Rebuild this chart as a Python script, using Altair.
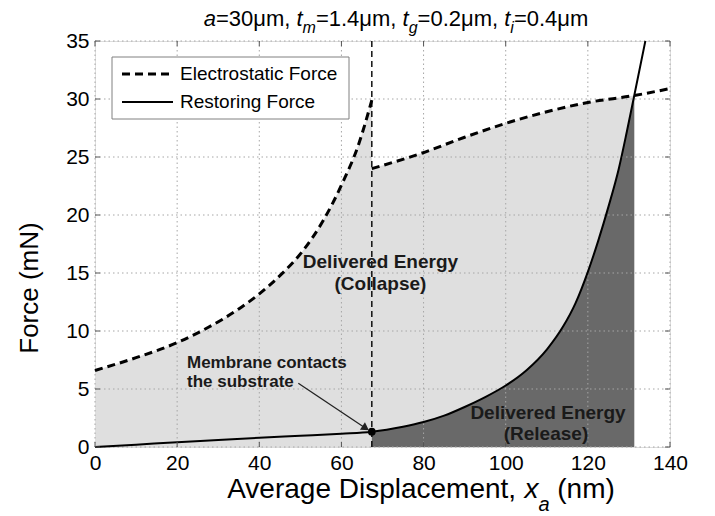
import altair as alt
import pandas as pd

# ---------------- data ----------------
elec_x_pre = [0, 10, 20, 27.5, 35, 40, 44.5, 50.8, 55.7, 60.3, 64, 67.4]
elec_y_pre = [6.6, 7.7, 9.0, 10.3, 11.9, 13.2, 14.6, 17.0, 19.6, 22.8, 25.9, 29.9]
elec_x_post = [67.4, 79.3, 90, 100, 110, 120, 131.3, 140]
elec_y_post = [24.0, 25.3, 26.7, 27.9, 28.9, 29.7, 30.3, 30.9]

rest_x = [0, 10, 20, 30, 40, 50, 60, 67.4, 75, 80, 85, 90, 95, 100, 105, 110,
          114, 117, 120, 122.5, 125, 127.5, 129.5, 131.3, 134.0]
rest_y = [0, 0.2, 0.42, 0.6, 0.8, 0.97, 1.15, 1.32, 1.75, 2.15, 2.7, 3.45, 4.3,
          5.3, 6.6, 8.4, 10.4, 12.4, 15.1, 17.75, 20.7, 23.95, 27.2, 30.3, 35]

contact_x = [67.4]
contact_y = [1.32]
cross_x = 131.3

x_ticks = [0, 20, 40, 60, 80, 100, 120, 140]
y_ticks = [0, 5, 10, 15, 20, 25, 30, 35]

series_names = ["Electrostatic Force", "Restoring Force"]

ann_text = ["Delivered Energy", "(Collapse)", "Delivered Energy", "(Release)"]
ann_x = [69.5, 69.5, 110.3, 109.8]
ann_y = [15.95, 14.05, 2.95, 1.1]

memb_text = ["Membrane contacts", "the substrate"]
memb_x = [22.4, 22.4]
memb_y = [7.25, 5.6]

arrow_x = [49.5, 65.9]
arrow_y = [5.5, 1.62]

# ---------------- layout ----------------
W, H = 575, 406
LEFT, TOP = 95, 41
FONT = "Liberation Sans"
LIGHT = "#dfdfdf"
DARK = "#696969"
GRID = "#a6a6a6"

xs = alt.Scale(domain=[0, 140], nice=False, zero=False)
ys = alt.Scale(domain=[0, 35], nice=False, zero=False)

elec_rows = []
for x, y in zip(elec_x_pre, elec_y_pre):
    elec_rows.append({"x": x, "y": y, "seg": 1, "series": series_names[0]})
for x, y in zip(elec_x_post, elec_y_post):
    elec_rows.append({"x": x, "y": y, "seg": 2, "series": series_names[0]})
elec_df = pd.DataFrame(elec_rows)
light_df = elec_df[elec_df["x"] <= cross_x]

rest_df = pd.DataFrame({"x": rest_x, "y": rest_y, "series": series_names[1]})
dark_df = rest_df[(rest_df["x"] >= contact_x[0]) & (rest_df["x"] <= cross_x)]

axis_common = dict(title=None, grid=False, domain=False, ticks=False, labelFontSize=21,
                   labelFont=FONT, labelColor="black", labelFlush=False)
X = alt.X("x:Q", scale=xs, axis=alt.Axis(values=x_ticks, labelPadding=5, **axis_common))
Y = alt.Y("y:Q", scale=ys, stack=False,
          axis=alt.Axis(values=y_ticks, labelPadding=6, **axis_common))
Xp = alt.X("x:Q", scale=xs)
Yp = alt.Y("y:Q", scale=ys, stack=False)

light = alt.Chart(light_df).mark_area(color=LIGHT, opacity=1, interpolate="monotone").encode(
    x=X, y=Y, detail="seg:N")
dark = alt.Chart(dark_df).mark_area(color=DARK, opacity=1, interpolate="monotone").encode(
    x=Xp, y=Yp)

# dotted grid over the fills
xt_df = pd.DataFrame({"x": x_ticks})
yt_df = pd.DataFrame({"y": y_ticks})
grid_style = dict(color=GRID, strokeWidth=1, strokeDash=[1.5, 3])
grid_x = alt.Chart(xt_df).mark_rule(**grid_style).encode(x=Xp, y=alt.value(0), y2=alt.value(H))
grid_y = alt.Chart(yt_df).mark_rule(**grid_style).encode(y=Yp, x=alt.value(0), x2=alt.value(W))

elec_line = alt.Chart(elec_df).mark_line(color="black", strokeWidth=3, strokeDash=[8, 5],
                                         interpolate="monotone").encode(
    x=Xp, y=Yp, detail="seg:N")
rest_line = alt.Chart(rest_df).mark_line(color="black", strokeWidth=2,
                                         interpolate="monotone").encode(x=Xp, y=Yp)

contact_df = pd.DataFrame({"x": contact_x, "y": contact_y})
vline = alt.Chart(contact_df).mark_rule(color="black", strokeWidth=1.4, strokeDash=[6, 4]).encode(
    x=Xp, y=alt.value(0), y2=alt.value(H))
dot = alt.Chart(contact_df).mark_point(filled=True, color="black", size=60, opacity=1).encode(
    x=Xp, y=Yp)

arrow_df = pd.DataFrame({"x": [arrow_x[0]], "y": [arrow_y[0]], "x2": [arrow_x[1]], "y2": [arrow_y[1]]})
arrow_line = alt.Chart(arrow_df).mark_rule(color="#222", strokeWidth=1.3).encode(
    x=Xp, y=Yp, x2="x2:Q", y2="y2:Q")
head_df = pd.DataFrame({"x": [arrow_x[1]], "y": [arrow_y[1]]})
arrow_head = alt.Chart(head_df).mark_point(shape="triangle-right", filled=True, color="#222",
                                            size=80, angle=34, opacity=1).encode(x=Xp, y=Yp)

ann_df = pd.DataFrame({"x": ann_x, "y": ann_y, "t": ann_text})
ann = alt.Chart(ann_df).mark_text(font=FONT, fontSize=19, fontWeight="bold", color="#1a1a1a",
                                  align="center", baseline="middle").encode(x=Xp, y=Yp, text="t:N")
memb_df = pd.DataFrame({"x": memb_x, "y": memb_y, "t": memb_text})
memb = alt.Chart(memb_df).mark_text(font=FONT, fontSize=17, fontWeight="bold", color="#1a1a1a",
                                    align="left", baseline="middle").encode(x=Xp, y=Yp, text="t:N")

# inner ticks (MATLAB style)
tick_style = dict(color="#555", strokeWidth=1)
xt_bottom = alt.Chart(xt_df).mark_rule(**tick_style).encode(x=Xp, y=alt.value(H), y2=alt.value(H - 5))
xt_top = alt.Chart(xt_df).mark_rule(**tick_style).encode(x=Xp, y=alt.value(0), y2=alt.value(5))
yt_left = alt.Chart(yt_df).mark_rule(**tick_style).encode(y=Yp, x=alt.value(0), x2=alt.value(5))
yt_right = alt.Chart(yt_df).mark_rule(**tick_style).encode(y=Yp, x=alt.value(W), x2=alt.value(W - 5))

# ---------------- legend (drawn box) ----------------
LX0, LX1, LY0, LY1 = 17, 254, 16, 78
leg_box = alt.Chart(alt.Data(values=[{}])).mark_rect(
    fill="white", stroke="#808080", strokeWidth=1).encode(
    x=alt.value(LX0), x2=alt.value(LX1), y=alt.value(LY0), y2=alt.value(LY1))
leg_rows = [(series_names[0], [8, 5], 3, 33), (series_names[1], [1, 0], 2, 61)]
leg_layers = [leg_box]
for name, dash, sw, yy in leg_rows:
    leg_layers.append(alt.Chart(alt.Data(values=[{}])).mark_rule(
        color="black", strokeWidth=sw, strokeDash=dash).encode(
        x=alt.value(LX0 + 10), x2=alt.value(LX0 + 61), y=alt.value(yy)))
    leg_layers.append(alt.Chart(alt.Data(values=[{}])).mark_text(
        font=FONT, fontSize=19, align="left", baseline="middle", color="black", text=name).encode(
        x=alt.value(LX0 + 68), y=alt.value(yy)))

# ---------------- rich-text titles ----------------
CW = {'a': .556, 'e': .556, 'g': .556, 'i': .222, 'm': .833, 'n': .556, 't': .278,
      'x': .5, 'r': .333, 'v': .5, 'c': .5, 's': .5, 'p': .556, 'l': .222, 'D': .722,
      'A': .667, 'F': .611, 'o': .556, 'N': .722, '(': .333, ')': .333, ' ': .278,
      ',': .278, '.': .278, '=': .584, 'μ': .576}


def tw(s, size):
    return sum(CW.get(c, .556) for c in s) * size


def rich(pieces, cx, base_y, size, sub_size, sub_drop):
    total = sum(tw(t, sub_size if sub else size) for t, it, sub in pieces)
    x = cx - total / 2
    layers = []
    for t, it, sub in pieces:
        fs = sub_size if sub else size
        lead = t[:len(t) - len(t.lstrip())]
        body = t.lstrip()
        kw = dict(font=FONT, fontSize=fs, align="left", baseline="alphabetic", color="black", text=body)
        if it:
            kw["fontStyle"] = "italic"
        layers.append(alt.Chart(alt.Data(values=[{}])).mark_text(**kw).encode(
            x=alt.value(x + tw(lead, fs)), y=alt.value(base_y + (sub_drop if sub else 0))))
        x += tw(t, fs)
    return layers


title_pieces = [("a", True, False), ("=30μm, ", False, False), ("t", True, False), ("m", True, True),
                ("=1.4μm, ", False, False), ("t", True, False), ("g", True, True),
                ("=0.2μm, ", False, False), ("t", True, False), ("i", True, True),
                ("=0.4μm", False, False)]
title_layers = rich(title_pieces, 396 - LEFT, 26 - TOP, 22, 16, 7)

xtitle_pieces = [("Average Displacement, ", False, False), ("x", True, False), ("a", True, True),
                 (" (nm)", False, False)]
xtitle_layers = rich(xtitle_pieces, 421 - LEFT, 498 - TOP, 28, 20, 13)

ytitle = alt.Chart(alt.Data(values=[{}])).mark_text(
    font=FONT, fontSize=26, angle=270, align="center", baseline="middle", color="black",
    text="Force (mN)").encode(x=alt.value(30 - LEFT), y=alt.value(288 - TOP))

chart = alt.layer(
    light, dark, grid_x, grid_y, vline, elec_line, rest_line, dot, arrow_line, arrow_head,
    ann, memb, xt_bottom, xt_top, yt_left, yt_right, *leg_layers, *title_layers,
    *xtitle_layers, ytitle
).properties(
    width=W, height=H,
    autosize=alt.AutoSizeParams(type="none"),
    padding={"left": LEFT, "top": TOP, "right": 715 - LEFT - W, "bottom": 516 - TOP - H},
).configure_view(stroke="#808080", strokeWidth=1).configure(background="white")

chart.save("out.html", embed_options={"renderer": "svg", "actions": False})
